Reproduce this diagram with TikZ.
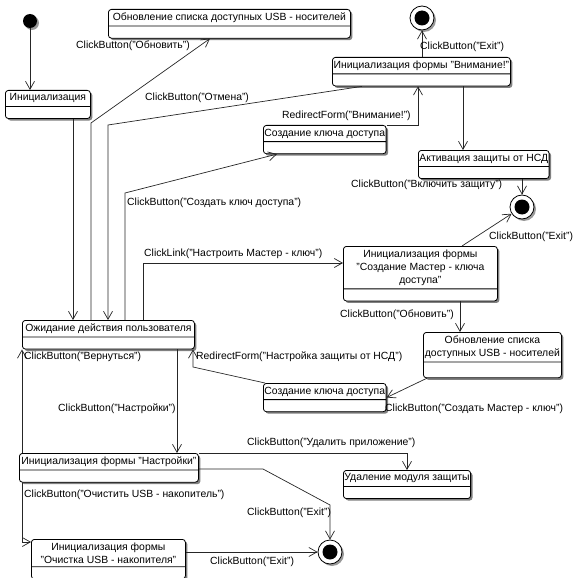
\documentclass[tikz,border=0pt]{standalone}
\usepackage{fontspec}
\setmainfont{Liberation Sans}
\usetikzlibrary{arrows.meta,shapes.multipart,shadows,calc}
\newcommand{\diafont}{\fontsize{10.4}{13}\selectfont}
\tikzset{
  state/.style={rectangle split, rectangle split parts=2,
                rectangle split empty part height=1pt, rounded corners=3pt,
                draw=black, fill=white, line width=0.8pt,
                inner xsep=1pt, inner ysep=3pt, align=center,
                anchor=north west, font=\diafont,
                drop shadow={shadow xshift=2pt, shadow yshift=-2pt,
                             fill=black!50, opacity=1}},
  initial/.style={circle, fill=black, minimum size=14pt, inner sep=0pt,
                  drop shadow={shadow xshift=2pt, shadow yshift=-2pt,
                               fill=black!40, opacity=1}},
  final/.style={circle, draw=black, fill=white, line width=0.8pt,
                minimum size=24pt, inner sep=0pt,
                drop shadow={shadow xshift=2pt, shadow yshift=-2pt,
                             fill=black!40, opacity=1},
                path picture={\fill[black] (path picture bounding box.center) circle (7.5pt);}},
  arrow/.style={-{Straight Barb[length=8pt,width=9pt]}, draw=black!85,
                line width=0.7pt},
  trans/.style={anchor=west, inner sep=0pt, font=\diafont}
}

\begin{document}
\begin{tikzpicture}[x=1pt,y=-1pt]
\useasboundingbox (0,0) rectangle (579,578);
% states
\node[initial] (init) at (30,21) {};
\node[state, minimum width=85pt] (ini) at (5,90) {Инициализация};
\node[state, minimum width=242pt] (upd1) at (108,9) {Обновление списка доступных USB - носителей};
\node[final] (fin1) at (422,18) {};
\node[state, minimum width=178pt] (warn) at (332,57) {Инициализация формы "Внимание!"};
\node[state, minimum width=120pt] (key1) at (263,125) {Создание ключа доступа};
\node[state, minimum width=128pt] (act) at (418,150) {Активация защиты от НСД};
\node[final] (fin2) at (522,207) {};
\node[state, minimum width=172pt] (wait) at (22,320) {Ожидание действия пользователя};
\node[state, minimum width=154pt] (master) at (343,246) {Инициализация формы\\"Создание Мастер - ключа\\доступа"};
\node[state, minimum width=138pt, rectangle split empty part height=9pt] (upd2) at (423,332) {Обновление списка\\доступных USB - носителей};
\node[state, minimum width=120pt] (key2) at (263,383) {Создание ключа доступа};
\node[state, minimum width=179pt] (sett) at (19,453) {Инициализация формы "Настройки"};
\node[state, minimum width=122pt] (del) at (343,470) {Удаление модуля защиты};
\node[state, minimum width=154pt] (clean) at (31,539) {Инициализация формы\\"Очистка USB - накопителя"};
\node[final] (fin3) at (330,552) {};

% transitions
\draw[arrow] (init) -- (init |- ini.north);
\draw[arrow] (ini.south -| 73,0) -- (wait.north -| 73,0);
\draw[arrow] (wait.north -| 91,0) -- (91,123) -- (upd1.south -| 210,0);
\draw[arrow] (warn.south -| 362,0) -- (108,125) -- (wait.north -| 108,0);
\draw[arrow] (wait.north -| 125,0) -- (125,193) -- (key1.south -| 277,0);
\draw[arrow] (wait.north -| 143,0) -- (143,263) -- (master.west |- 0,263);
\draw[arrow] (key1.north east) -| (warn.south -| 418,0);
\draw[arrow] (warn.north -| fin1) -- (fin1.south);
\draw[arrow] (warn.south -| 463,0) -- (act.north -| 463,0);
\draw[arrow] (act.south -| fin2) -- (fin2.north);
\draw[arrow] (master.north -| 462,0) -- (fin2);
\draw[arrow] (master.south -| 460,0) -- (upd2.north -| 460,0);
\draw[arrow] ([xshift=4pt]upd2.south west) -- (key2.east);
\draw[arrow] ([xshift=2pt]key2.north west) -- (193,367) -- (wait.south -| 193,0);
\draw[arrow] (sett.north -| 22,0) -- (wait.south -| 22,0);
\draw[arrow] (wait.south -| 177,0) -- (sett.north -| 177,0);
\draw[arrow] (sett.north east) -| (del.north);
\draw[arrow] (sett.east |- 0,469) -- (263,469) -- (330,505) -- (fin3.north);
\draw[arrow] (sett.south -| 22,0) |- (clean.west |- 0,542);
\draw[arrow] (clean.east |- fin3) -- (fin3);

% labels
\node[trans] (lobn) at (76,46) {ClickButton("Обновить")};
\node[trans] (lotm) at (145,98) {ClickButton("Отмена")};
\node[trans] (lredw) at (282,116) {RedirectForm("Внимание!")};
\node[trans] (lexit1) at (420,47) {ClickButton("Exit")};
\node[trans] (lvkl) at (351,185) {ClickButton("Включить защиту")};
\node[trans] (lsoz) at (127,203) {ClickButton("Создать ключ доступа")};
\node[trans] (llink) at (144,254) {ClickLink("Настроить Мастер - ключ")};
\node[trans] (lexit2) at (489,237) {ClickButton("Exit")};
\node[trans] (lobn2) at (340,315) {ClickButton("Обновить")};
\node[trans] (lvern) at (24,357) {ClickButton("Вернуться")};
\node[trans] (lredn) at (196,357) {RedirectForm("Настройка защиты от НСД")};
\node[trans] (lmast) at (385,409) {ClickButton("Создать Мастер - ключ")};
\node[trans] (lnast) at (58,409) {ClickButton("Настройки")};
\node[trans] (ldel) at (247,443) {ClickButton("Удалить приложение")};
\node[trans] (loch) at (24,495) {ClickButton("Очистить USB - накопитель")};
\node[trans] (lexit3) at (247,513) {ClickButton("Exit")};
\node[trans] (lexit4) at (210,562) {ClickButton("Exit")};
\end{tikzpicture}
\end{document}
